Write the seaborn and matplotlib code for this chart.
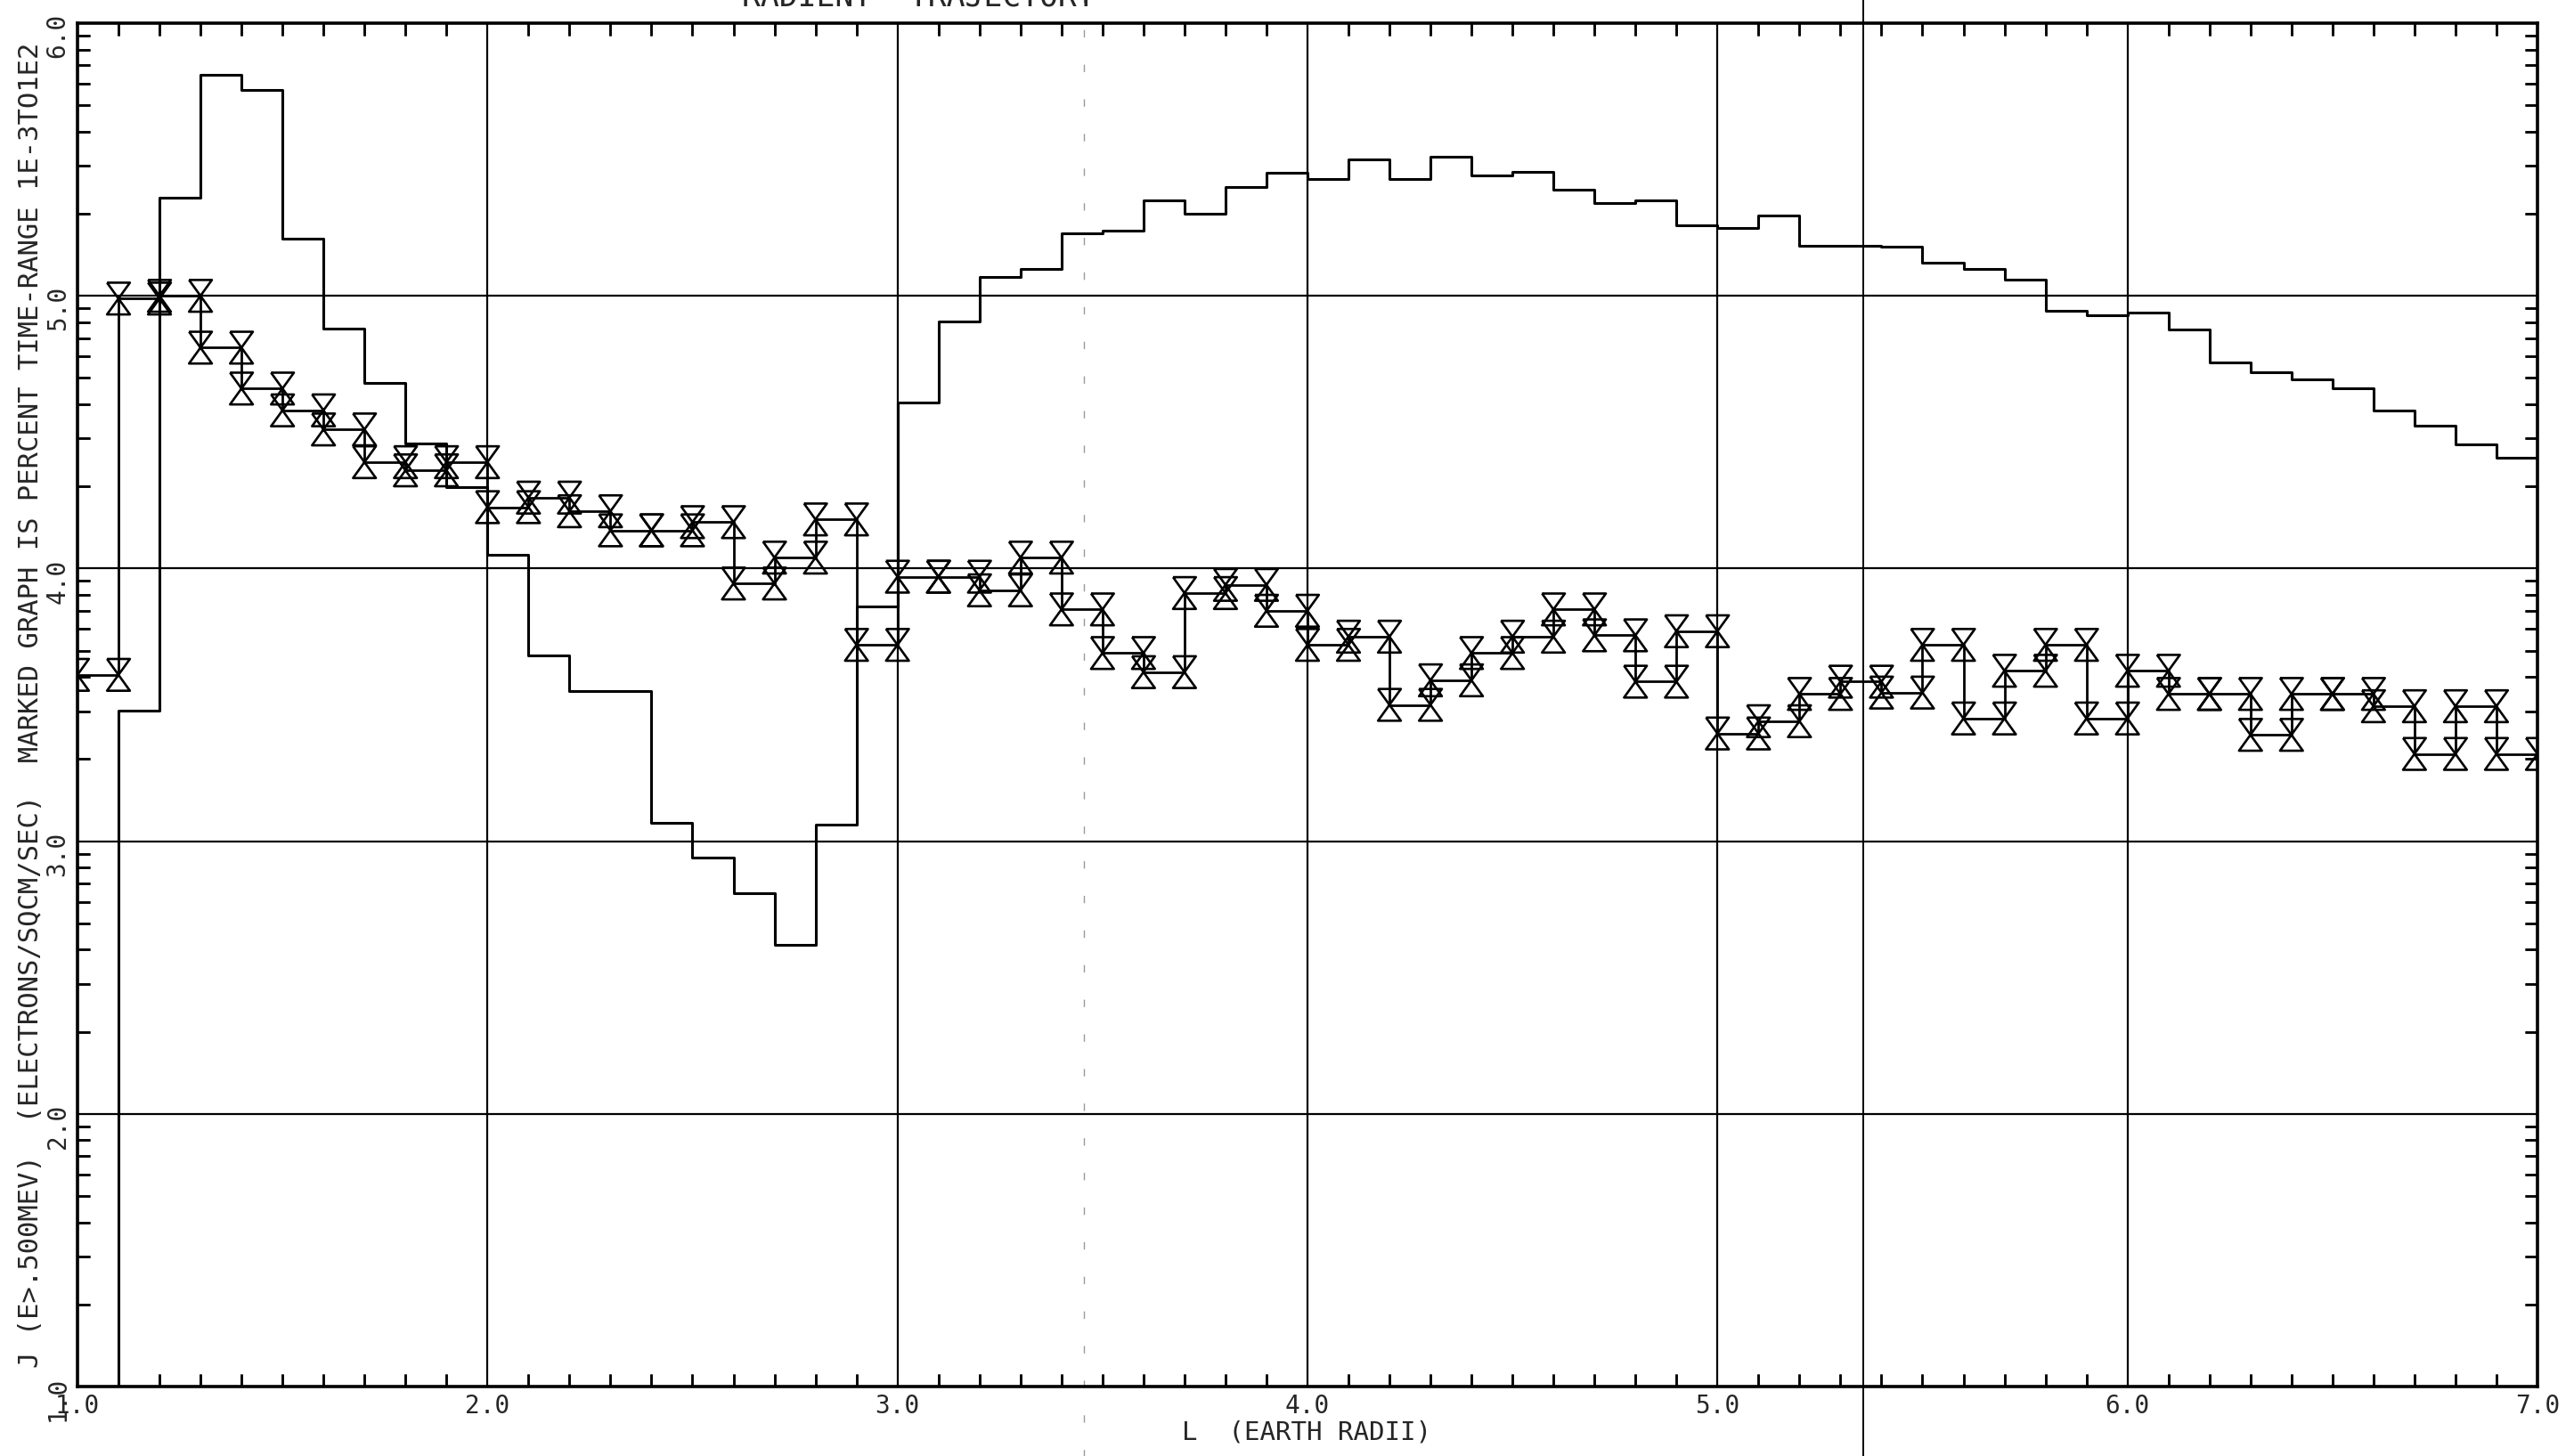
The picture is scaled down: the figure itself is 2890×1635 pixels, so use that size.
import numpy as np
import pandas as pd
import matplotlib
matplotlib.use('Agg')
import matplotlib.pyplot as plt
import seaborn as sns
from matplotlib.path import Path
from matplotlib.ticker import FixedLocator, FuncFormatter, LogLocator, MultipleLocator, NullFormatter

# L bins (earth radii), 0.1 wide
bin_left = [1.0, 1.1, 1.2, 1.3, 1.4, 1.5, 1.6, 1.7, 1.8, 1.9,
            2.0, 2.1, 2.2, 2.3, 2.4, 2.5, 2.6, 2.7, 2.8, 2.9,
            3.0, 3.1, 3.2, 3.3, 3.4, 3.5, 3.6, 3.7, 3.8, 3.9,
            4.0, 4.1, 4.2, 4.3, 4.4, 4.5, 4.6, 4.7, 4.8, 4.9,
            5.0, 5.1, 5.2, 5.3, 5.4, 5.5, 5.6, 5.7, 5.8, 5.9,
            6.0, 6.1, 6.2, 6.3, 6.4, 6.5, 6.6, 6.7, 6.8, 6.9]
bin_right = bin_left[1:] + [7.0]

# log10 J (E>.500MEV), plain histogram (first bin is below the axis)
flux_log = [0.0, 3.48, 5.36, 5.81, 5.755, 5.21, 4.88, 4.68, 4.46, 4.30,
            4.05, 3.68, 3.55, 3.55, 3.066, 2.94, 2.81, 2.62, 3.06, 3.86,
            4.61, 4.905, 5.07, 5.10, 5.23, 5.24, 5.35, 5.30, 5.40, 5.45,
            5.43, 5.50, 5.43, 5.51, 5.44, 5.455, 5.39, 5.34, 5.35, 5.26,
            5.25, 5.295, 5.185, 5.185, 5.18, 5.12, 5.10, 5.06, 4.945, 4.93,
            4.94, 4.875, 4.755, 4.72, 4.695, 4.66, 4.58, 4.525, 4.455, 4.405]

# marked graph: percent time, same log scale
pct_log = [3.61, 4.99, 5.00, 4.81, 4.66, 4.58, 4.51, 4.39, 4.36, 4.39,
           4.225, 4.26, 4.21, 4.14, 4.14, 4.17, 3.945, 4.04, 4.18, 3.72,
           3.97, 3.97, 3.92, 4.04, 3.85, 3.69, 3.62, 3.91, 3.94, 3.845,
           3.72, 3.75, 3.50, 3.59, 3.69, 3.75, 3.85, 3.755, 3.585, 3.77,
           3.395, 3.44, 3.54, 3.585, 3.545, 3.72, 3.45, 3.625, 3.72, 3.45,
           3.625, 3.54, 3.54, 3.39, 3.54, 3.54, 3.495, 3.32, 3.495, 3.32]

x_major = [1.0, 2.0, 3.0, 4.0, 5.0, 6.0, 7.0]
fold_x = 5.356
crease_x = 3.455

title = "RADIENT  TRAJECTORY"
ylabel = "J (E>.500MEV)  (ELECTRONS/SQCM/SEC)  MARKED GRAPH IS PERCENT TIME-RANGE 1E-3TO1E2"
xlabel = "L  (EARTH RADII)"

sns.set_style('white')
plt.rcParams['font.family'] = ['DejaVu Sans Mono', 'DejaVu Sans']

rect = [0.0301, 0.0477, 0.9557, 0.9364]
fig = plt.figure(figsize=(28.9, 16.35), dpi=100)
ax = fig.add_axes(rect)

# plain histogram
flux = pd.DataFrame({'L': bin_left + [7.0],
                     'J': [10 ** v for v in flux_log + [flux_log[-1]]]})
sns.lineplot(data=flux, x='L', y='J', ax=ax, drawstyle='steps-post',
             color='black', lw=2.2, sort=False)

# marked histogram
pct = pd.DataFrame({'L': bin_left + [7.0],
                    'J': [10 ** v for v in pct_log + [pct_log[-1]]]})
sns.lineplot(data=pct, x='L', y='J', ax=ax, drawstyle='steps-post',
             color='black', lw=2.0, sort=False)

hourglass = Path([(-0.72, 1), (0.72, 1), (0, 0), (-0.72, -1), (0.72, -1), (0, 0), (-0.72, 1)])
marks = pd.DataFrame({'L': bin_left + bin_right,
                      'J': [10 ** v for v in pct_log + pct_log]})
sns.scatterplot(data=marks, x='L', y='J', ax=ax, marker=hourglass, s=660,
                linewidth=1.9, legend=False)
coll = ax.collections[-1]
coll.set_facecolor('none')
coll.set_edgecolor('black')

# page fold and faint crease from the scanned sheet
ax.axvline(fold_x, ymin=-0.052, ymax=1.02, clip_on=False, color='black', lw=1.4)
ax.axvline(crease_x, ymin=-0.052, ymax=1.02, clip_on=False, color='0.6', lw=1.0,
           dashes=(6, 22))


def set_scales(a):
    a.set_yscale('log')
    a.set_xlim(1.0, 7.0)
    a.set_ylim(10, 1e6)
    a.xaxis.set_major_locator(FixedLocator(x_major))
    a.xaxis.set_minor_locator(MultipleLocator(0.1))
    a.yaxis.set_major_locator(LogLocator(base=10, numticks=10))
    a.yaxis.set_minor_locator(LogLocator(base=10, subs=np.arange(2, 10), numticks=40))
    a.yaxis.set_minor_formatter(NullFormatter())


set_scales(ax)
ax.set_xlabel('')
ax.set_ylabel('')
ax.xaxis.set_major_formatter(FuncFormatter(lambda v, p: f'{v:.1f}'))
ax.yaxis.set_major_formatter(FuncFormatter(lambda v, p: f'{np.log10(v):.1f}'))
ax.tick_params(which='both', direction='in', top=True, right=True,
               bottom=True, left=True, color='black')
ax.tick_params(which='minor', length=10, width=1.8)
ax.tick_params(which='major', length=0, labelsize=20, pad=6)
ax.tick_params(axis='y', labelrotation=90)
ax.grid(which='major', color='black', lw=1.6)
ax.grid(which='minor', visible=False)

for s in ax.spines.values():
    s.set_color('black')
    s.set_linewidth(2.6)

# transparent overlay that only carries the inward minor ticks on all four sides
tick_ax = fig.add_axes(rect, facecolor='none', label='ticks')
tick_ax.set_zorder(ax.get_zorder() + 1)
set_scales(tick_ax)
tick_ax.xaxis.set_major_formatter(NullFormatter())
tick_ax.yaxis.set_major_formatter(NullFormatter())
tick_ax.tick_params(which='both', direction='in', top=True, right=True, bottom=True,
                    left=True, labelbottom=False, labelleft=False, labeltop=False,
                    labelright=False, color='black')
tick_ax.tick_params(which='minor', length=10, width=1.8)
tick_ax.tick_params(which='major', length=0)
tick_ax.grid(False)
for s in tick_ax.spines.values():
    s.set_visible(False)

fig.text(0.0118, 0.516, ylabel, rotation=90, ha='center', va='center', fontsize=22)
fig.text(0.5076, 0.0165, xlabel, ha='center', va='center', fontsize=21)
fig.text(0.357, 0.9958, title, ha='center', va='baseline', fontsize=25)

fig.savefig('out.png', dpi=100, facecolor='white')
